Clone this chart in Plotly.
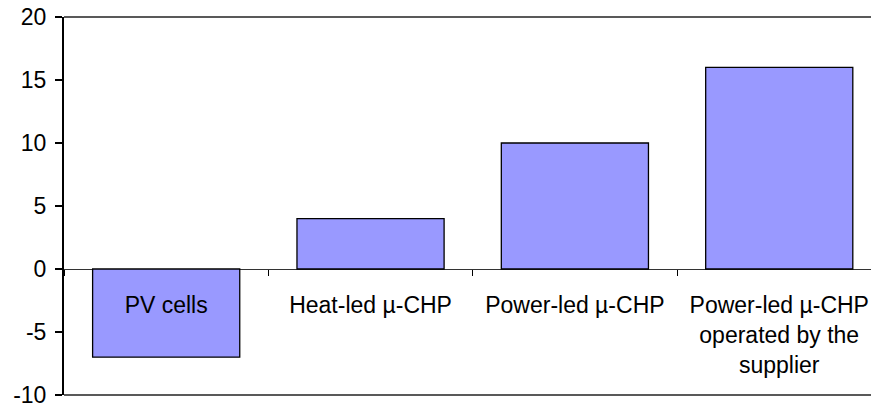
import plotly.graph_objects as go

BAR_CLR  = "#9999FF"
LINE_CLR = "#000000"
FONT     = "Arial, 'Liberation Sans', sans-serif"

categories = [
    "PV cells",
    "Heat-led µ-CHP",
    "Power-led µ-CHP",
    "Power-led µ-CHP<br>operated by the<br>supplier",
]
values = [-7, 4, 10, 16]
y_ticks = [-10, -5, 0, 5, 10, 15, 20]
y_ticktext = ["-10", "-5", "0", "5", "10", "15", "20"]

fig = go.Figure(go.Bar(
    x=categories, y=values,
    width=0.72,
    marker=dict(color=BAR_CLR, line=dict(color=LINE_CLR, width=1.3)),
))

# frame lines at top and bottom of the plot area (no right border)
for yy in (0, 1):
    fig.add_shape(type="line", xref="paper", yref="paper",
                  x0=0, x1=1, y0=yy, y1=yy,
                  line=dict(color="#222222", width=1.5))

fig.update_layout(
    width=871, height=405,
    paper_bgcolor="white", plot_bgcolor="white",
    margin=dict(l=64, r=0, t=17, b=10),
    font=dict(family=FONT, size=23, color="black"),
    showlegend=False,
)
fig.update_xaxes(
    type="category",
    range=[-0.5, 3.449],
    anchor="free", position=1 / 3,
    automargin=False,
    ticklabeloverflow="allow",
    showline=False, showgrid=False, zeroline=False,
    ticks="outside", tickson="boundaries", ticklen=6,
    tickcolor=LINE_CLR, tickwidth=1,
    ticklabelstandoff=20,
    tickfont=dict(size=23),
)
fig.update_yaxes(
    range=[-10.001, 20.001],
    tickvals=y_ticks, ticktext=y_ticktext,
    automargin=False,
    ticklabeloverflow="allow",
    showline=True, linecolor=LINE_CLR, linewidth=2,
    ticks="outside", ticklen=7, tickcolor=LINE_CLR, tickwidth=1.5,
    showgrid=False,
    zeroline=True, zerolinecolor="#333333", zerolinewidth=1,
    ticklabelstandoff=4,
    tickfont=dict(size=23),
)

# drop the default page margin so the figure fills the window exactly
fig.write_html(
    "out.html",
    config={"displayModeBar": False},
    post_script="document.body.style.margin='0';document.body.style.overflow='hidden';",
)
